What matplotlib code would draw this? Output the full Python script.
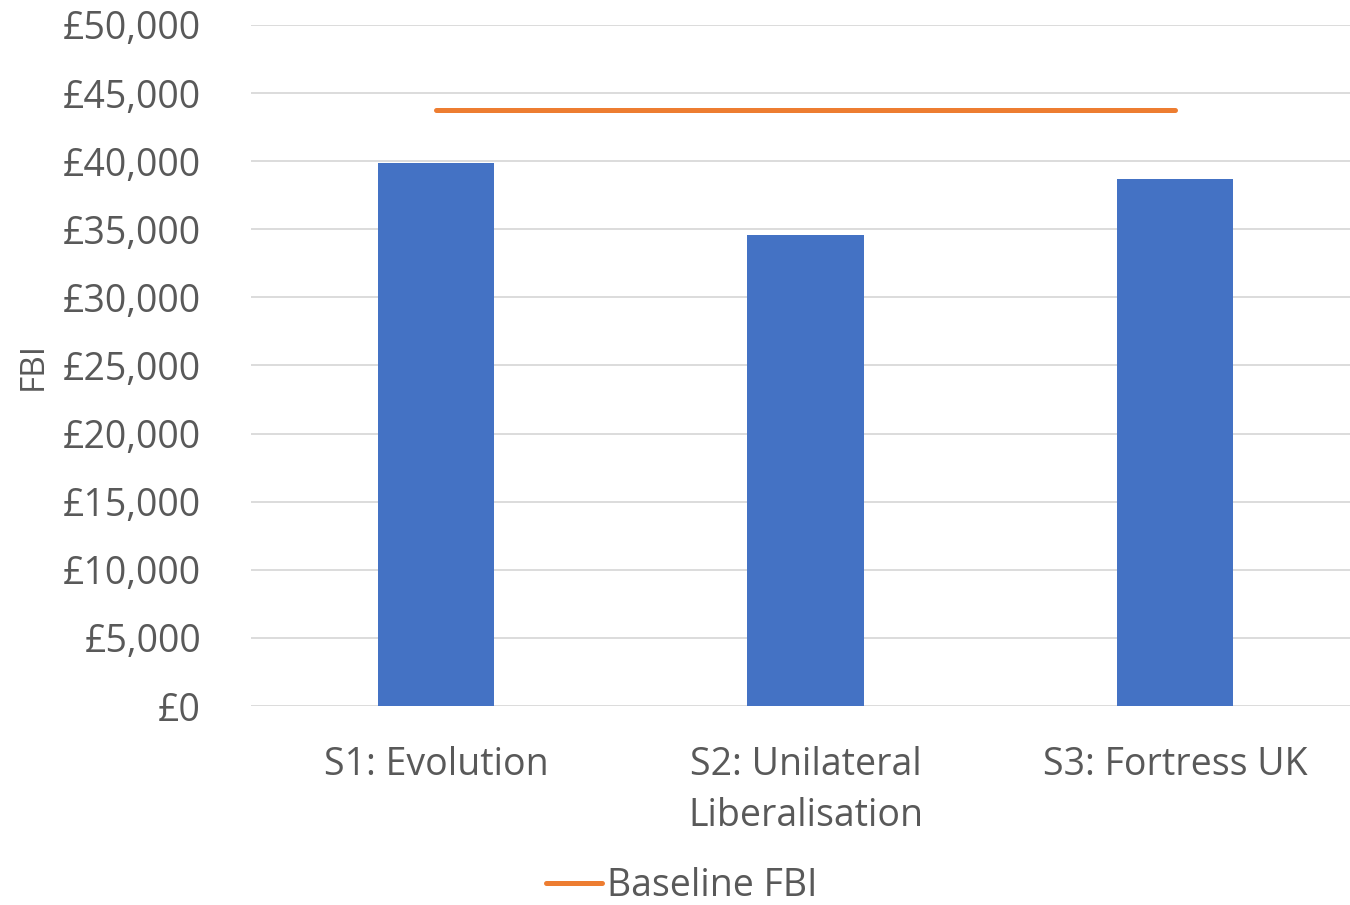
import matplotlib
matplotlib.use("Agg")
import matplotlib.pyplot as plt
from matplotlib.ticker import FuncFormatter
from matplotlib.lines import Line2D

categories = ["S1: Evolution", "S2: Unilateral\nLiberalisation", "S3: Fortress UK"]
fbi_values = [39850, 34550, 38690]
baseline_fbi = 43760
yticks = list(range(0, 50001, 5000))

GRAY = "#595959"
plt.rcParams['font.family'] = ['Open Sans', 'DejaVu Sans']

fig = plt.figure(figsize=(13.5, 9.05), dpi=100)
ax = fig.add_axes([251/1350, 1-706/905, (1360-251)/1350, (706-25)/905])

x = list(range(len(categories)))
ax.bar(x, fbi_values, width=0.315, color="#4472C4", zorder=3)
ax.plot(x, [baseline_fbi]*len(x), color="#ED7D31", lw=3.6,
        solid_capstyle='round', zorder=4)

ax.set_xlim(-0.5, 2.5)
ax.set_ylim(0, 50000)
ax.set_yticks(yticks)
ax.yaxis.set_major_formatter(FuncFormatter(lambda v, p: f"£{int(v):,}"))
ax.set_xticks(x)
ax.set_xticklabels(categories, linespacing=1.45)
ax.tick_params(axis='y', length=0, pad=36, labelsize=27, labelcolor=GRAY)
ax.tick_params(axis='x', length=0, pad=29, labelsize=27, labelcolor=GRAY)
for lab in ax.get_xticklabels():
    lab.set_verticalalignment('top')
    lab.set_horizontalalignment('center')
ax.grid(axis='y', color="#D9D9D9", lw=1.3, zorder=0)
for s in ax.spines.values():
    s.set_visible(False)

fig.text(33/1350, 1-366/905, "FBI", rotation=90, fontsize=24, color=GRAY,
         ha='center', va='center')

handle = Line2D([0], [0], color="#ED7D31", lw=3.6, solid_capstyle='round')
leg = fig.legend([handle], ["Baseline FBI"], loc='center', bbox_to_anchor=(682/1350, 1-886/905),
                 frameon=False, fontsize=27, handlelength=1.47, handletextpad=0.15,
                 borderpad=0.1)
for t in leg.get_texts():
    t.set_color(GRAY)

fig.savefig("out.png", dpi=100)
